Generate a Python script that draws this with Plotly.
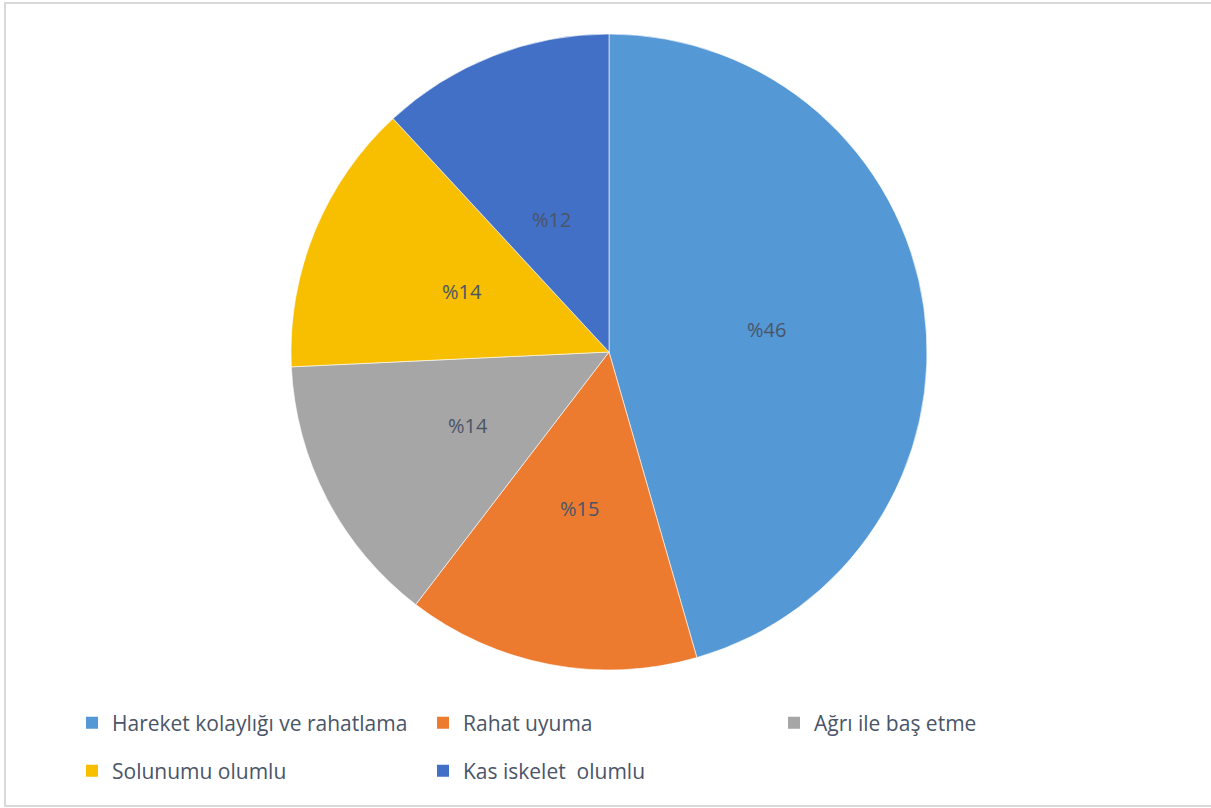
import math
import plotly.graph_objects as go

kategoriler = ["Hareket kolaylığı ve rahatlama", "Rahat uyuma", "Ağrı ile baş etme",
               "Solunumu olumlu", "Kas iskelet  olumlu"]
yuzdeler = [46, 15, 14, 14, 12]
renkler = ["#5598D6", "#EC7B30", "#A6A6A6", "#F7BF00", "#4270C6"]
legend_sira = ["legend", "legend", "legend", "legend2", "legend2"]

W, H = 1211, 808
cx, cy, r = 609, 352, 318
yazi_rengi = "#4A5568"

fig = go.Figure(go.Pie(
    labels=kategoriler,
    values=yuzdeler,
    sort=False,
    direction="clockwise",
    rotation=0,
    marker=dict(colors=renkler, line=dict(color="rgba(255,255,255,0.6)", width=1)),
    textinfo="none",
    hoverinfo="label+percent",
    showlegend=False,
    domain=dict(x=[(cx - r) / W, (cx + r) / W], y=[1 - (cy + r) / H, 1 - (cy - r) / H]),
))

# legend entries (two rows like the original)
for ad, renk, lg in zip(kategoriler, renkler, legend_sira):
    fig.add_trace(go.Scatter(
        x=[None], y=[None], mode="markers", name=ad, legend=lg,
        marker=dict(symbol="square", size=12, color=renk),
    ))

# percentage labels at half radius along each slice's bisector
toplam = sum(yuzdeler)
bas = 0
for v in yuzdeler:
    orta = (bas + v / 2) / toplam * 2 * math.pi
    bas += v
    fig.add_annotation(
        x=(cx + 0.5 * r * math.sin(orta)) / W,
        y=1 - (cy - 0.5 * r * math.cos(orta)) / H,
        xref="paper", yref="paper", text="%" + str(v), showarrow=False,
        font=dict(family="Open Sans", size=20, color=yazi_rengi),
    )

fig.add_shape(type="rect", xref="paper", yref="paper",
              x0=5 / W, x1=1.01, y0=1 - 806 / H, y1=1 - 3 / H,
              line=dict(color="#D9D9D9", width=2))

legend_ortak = dict(orientation="h", xanchor="left", yanchor="middle",
                    entrywidth=306, itemwidth=30, traceorder="normal",
                    font=dict(family="Open Sans", size=21, color=yazi_rengi))

fig.update_layout(
    width=W, height=H,
    margin=dict(l=0, r=0, t=0, b=0),
    paper_bgcolor="white",
    plot_bgcolor="white",
    font=dict(family="Open Sans", color=yazi_rengi),
    xaxis=dict(visible=False),
    yaxis=dict(visible=False),
    legend=dict(x=72 / W, y=1 - 723 / H, **legend_ortak),
    legend2=dict(x=72 / W, y=1 - 771 / H, **legend_ortak),
)

fig.write_html("out.html", config={"displayModeBar": False},
               post_script="document.body.style.margin='0';")
